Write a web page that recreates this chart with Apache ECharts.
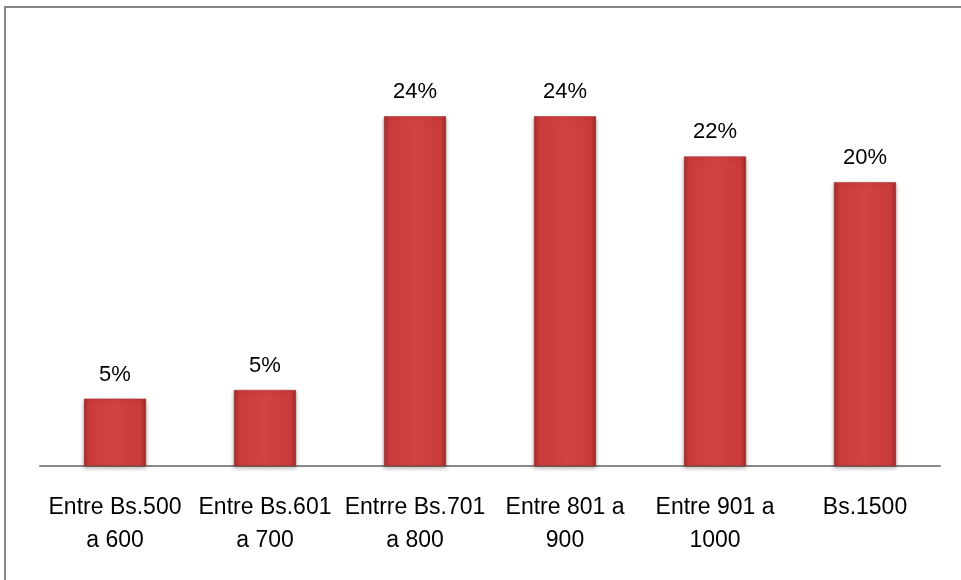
<!DOCTYPE html>
<html>
<head>
<meta charset="utf-8">
<script src="https://cdn.jsdelivr.net/npm/echarts@6/dist/echarts.min.js"></script>
<style>
html,body{margin:0;padding:0;background:#fff;}
#chart{width:961px;height:580px;}
</style>
</head>
<body>
<div id="chart"></div>
<script>
const categories = ['Entre Bs.500\na 600', 'Entre Bs.601\na 700', 'Entrre Bs.701\na 800', 'Entre 801 a\n900', 'Entre 901 a\n1000', 'Bs.1500'];
const values = [0.047, 0.053, 0.244, 0.244, 0.216, 0.198];

const chart = echarts.init(document.getElementById('chart'), null, {renderer: 'canvas'});
const FONT = "'Liberation Sans', Arial, sans-serif";
chart.setOption({
  animation: false,
  backgroundColor: '#ffffff',
  graphic: [{
    type: 'rect',
    shape: {x: 5, y: 7, width: 1200, height: 1000},
    style: {fill: 'none', stroke: '#878787', lineWidth: 2},
    silent: true
  }],
  grid: {left: 40, right: 21, top: 36, bottom: 114},
  xAxis: {
    type: 'category',
    data: categories,
    axisLine: {show: true, lineStyle: {color: '#8a8a8a', width: 2}},
    axisTick: {show: false},
    axisLabel: {
      interval: 0,
      margin: 25,
      color: '#000',
      fontFamily: FONT,
      fontSize: 23,
      lineHeight: 33
    }
  },
  yAxis: {
    type: 'value',
    min: 0,
    max: 0.3,
    show: false,
    splitLine: {show: false}
  },
  series: [{
    type: 'bar',
    data: values,
    barWidth: 62,
    itemStyle: {
      color: new echarts.graphic.LinearGradient(0, 0, 1, 0, [
        {offset: 0, color: '#a52a2a'},
        {offset: 0.08, color: '#c93a3a'},
        {offset: 0.5, color: '#d24242'},
        {offset: 0.92, color: '#c93a3a'},
        {offset: 1, color: '#9e2828'}
      ]),
      borderColor: '#9a2626',
      borderWidth: 0.5,
      shadowBlur: 4,
      shadowColor: 'rgba(0,0,0,0.3)',
      shadowOffsetY: 2
    },
    label: {
      show: true,
      position: 'top',
      distance: 13,
      color: '#000',
      fontFamily: FONT,
      fontSize: 22,
      formatter: p => Math.round(p.value * 100) + '%'
    }
  }]
});
</script>
</body>
</html>
